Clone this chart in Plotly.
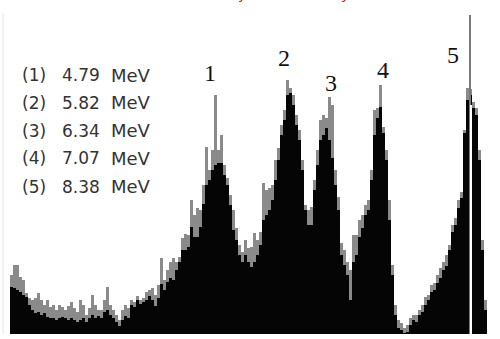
import plotly.graph_objects as go

# Histogram body counts (black) and fluctuation tops (grey), one value per channel
body_counts = [47, 46, 44, 42, 39, 37, 29, 24, 21, 22, 19, 21, 17, 16, 16, 14, 16, 17, 16, 14,
               16, 14, 12, 14, 16, 12, 16, 19, 16, 18, 16, 22, 24, 19, 16, 12, 8, 14, 18, 16,
               29, 27, 34, 30, 32, 34, 38, 34, 28, 36, 50, 44, 52, 56, 54, 64, 72, 84, 84, 87,
               107, 97, 97, 107, 130, 149, 154, 164, 169, 171, 171, 159, 149, 129, 104, 94, 79, 72, 79, 72,
               67, 72, 79, 89, 114, 119, 124, 134, 154, 174, 199, 214, 239, 241, 229, 209, 194, 164, 124, 109,
               109, 144, 169, 194, 199, 206, 194, 176, 149, 124, 79, 69, 59, 34, 72, 79, 97, 106, 119, 124,
               154, 199, 216, 227, 201, 174, 114, 59, 19, 6, 4, 1, 2, 9, 14, 12, 19, 22, 29, 34,
               42, 44, 51, 56, 64, 68, 84, 102, 109, 126, 136, 201, 234, 239, 226, 219, 174, 84, 24]
peak_counts = [59, 69, 69, 57, 54, 41, 36, 34, 36, 41, 34, 29, 34, 27, 29, 24, 29, 27, 24, 28,
               32, 26, 22, 34, 29, 19, 26, 39, 29, 24, 24, 34, 47, 29, 24, 19, 14, 24, 29, 26,
               34, 32, 38, 34, 36, 42, 44, 46, 39, 49, 76, 54, 64, 72, 76, 72, 77, 96, 100, 99,
               134, 119, 126, 124, 149, 187, 164, 184, 239, 184, 199, 169, 156, 139, 124, 106, 89, 82, 94, 86,
               87, 101, 94, 102, 151, 144, 146, 149, 174, 186, 209, 224, 254, 246, 239, 219, 204, 174, 129, 124,
               127, 154, 184, 214, 219, 216, 237, 229, 164, 137, 91, 84, 72, 64, 99, 99, 114, 119, 129, 134,
               164, 224, 226, 249, 207, 184, 134, 69, 29, 14, 11, 6, 9, 16, 19, 19, 24, 29, 37, 39,
               49, 51, 59, 66, 72, 79, 89, 109, 116, 134, 142, 204, 246, 245, 232, 226, 184, 94, 34]
channels = list(range(len(body_counts)))

# Sharp line at the top of peak 5
spike_channel = [152.83]
spike_count = [319]
gap_channel = [153.27]
gap_count = [229]

# Peak labels
peak_labels = ["1", "2", "3", "4", "5"]
label_channel = [66.2, 90.8, 106.5, 123.8, 147.2]
label_count = [261, 276, 251, 264, 279]

# Energy list
energy_ids = ["(1)", "(2)", "(3)", "(4)", "(5)"]
energy_values = ["4.79", "5.82", "6.34", "7.07", "8.38"]
energy_unit = "MeV"

fig = go.Figure()
fig.add_trace(go.Bar(x=channels, y=peak_counts, width=1.0, marker=dict(color="#8a8a8a", line=dict(width=0)),
                     showlegend=False, hoverinfo="skip"))
fig.add_trace(go.Bar(x=channels, y=body_counts, width=1.0, marker=dict(color="#050505", line=dict(width=0)),
                     showlegend=False, hoverinfo="skip"))
fig.add_trace(go.Bar(x=spike_channel, y=spike_count, width=0.8, marker=dict(color="#7a7a7a", line=dict(width=0)),
                     showlegend=False, hoverinfo="skip"))
fig.add_trace(go.Bar(x=gap_channel, y=gap_count, width=0.4, marker=dict(color="#ffffff", line=dict(width=0)),
                     showlegend=False, hoverinfo="skip"))

for lab, cx, cy in zip(peak_labels, label_channel, label_count):
    fig.add_annotation(x=cx, y=cy, xref="x", yref="y", text=lab, showarrow=False,
                       font=dict(family="Liberation Serif", size=24, color="#111111"),
                       xanchor="center", yanchor="middle")

txt_font = dict(family="DejaVu Sans", size=17, color="#333333")
unit_font = dict(family="DejaVu Sans", size=18, color="#333333")
line_y = [0.774, 0.692, 0.609, 0.526, 0.441]
for eid, ev, yy in zip(energy_ids, energy_values, line_y):
    fig.add_annotation(x=0.040, y=yy, xref="paper", yref="paper", text=eid, showarrow=False,
                       font=txt_font, xanchor="left", yanchor="middle")
    fig.add_annotation(x=0.120, y=yy, xref="paper", yref="paper", text=ev, showarrow=False,
                       font=txt_font, xanchor="left", yanchor="middle")
    fig.add_annotation(x=0.218, y=yy, xref="paper", yref="paper", text=energy_unit, showarrow=False,
                       font=unit_font, xanchor="left", yanchor="middle")

# red title remnants cut off at the top edge
for xx in [0.483, 0.689]:
    fig.add_annotation(x=xx, y=1, xref="paper", yref="paper", text="y", showarrow=False,
                       font=dict(family="DejaVu Sans", size=14, color="#ff0000"),
                       xanchor="center", yanchor="bottom", yshift=-4)

fig.add_shape(type="line", xref="paper", yref="paper", x0=0.006, x1=0.006, y0=0, y1=0.96,
              line=dict(color="#e4e4e4", width=1))

fig.update_layout(
    width=500, height=339,
    margin=dict(l=0, r=0, t=0, b=5),
    paper_bgcolor="white", plot_bgcolor="white",
    bargap=0, barmode="overlay",
    xaxis=dict(range=[-3.833, 162.833], visible=False, fixedrange=True),
    yaxis=dict(range=[0, 334], visible=False, fixedrange=True),
)

fig.write_html("out.html", config={"displayModeBar": False},
               post_script="document.body.style.margin='0';document.body.style.overflow='hidden';")
